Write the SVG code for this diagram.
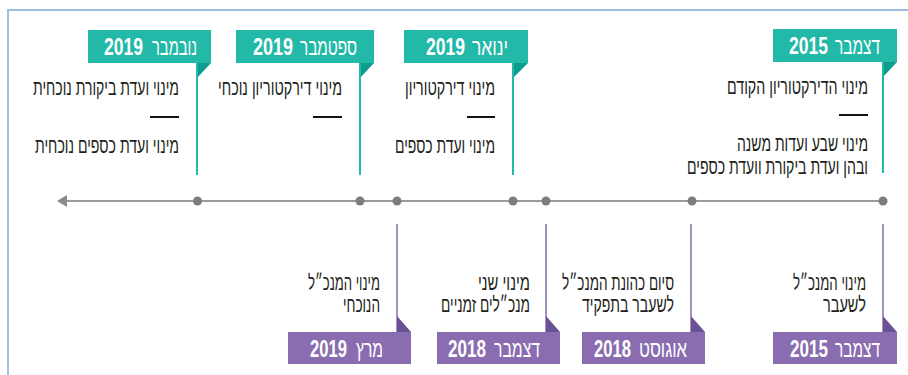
<svg xmlns="http://www.w3.org/2000/svg" width="908" height="375" viewBox="0 0 908 375">
<style>
.frame{fill:none;stroke:#9dbde3;stroke-width:2}
.teal{fill:#23b9a8}
.tealdk{fill:#0e9c8d}
.purple{fill:#8a6db0}
.purpledk{fill:#6a5193}
.tline{stroke:#23b9a8;stroke-width:2}
.pline{stroke:#8a6db0;stroke-width:1.5}
.dash{stroke:#111;stroke-width:2}
.axis{stroke:#9a9a9a;stroke-width:2}
.dot{fill:#7d7d7d}
text{text-anchor:end;font-family:"Liberation Sans","DejaVu Sans",sans-serif}
.txt{font-size:21px;fill:#231f20}
.yr{font-size:23px;font-weight:bold;fill:#fff}
.mo{font-size:23px;fill:#fff}
</style>
<rect width="908" height="375" fill="#fff"/>
<path class="frame" d="M8,375 V10 H908"/>
<g id="connectors">
<line class="axis" x1="66" y1="201" x2="883" y2="201"/>
<polygon fill="#8a8a8a" points="57,201 67,195 67,207"/>
<circle class="dot" cx="197.5" cy="201" r="4.5"/>
<circle class="dot" cx="360" cy="201" r="4.5"/>
<circle class="dot" cx="397" cy="201" r="4.5"/>
<circle class="dot" cx="513" cy="201" r="4.5"/>
<circle class="dot" cx="546" cy="201" r="4.5"/>
<circle class="dot" cx="692" cy="201" r="4.5"/>
<circle class="dot" cx="883" cy="201" r="4.5"/>
</g>
<g id="nov2019">
<rect class="teal" x="88" y="30" width="123" height="33"/>
<polygon class="tealdk" points="197,63 211,63 197,78"/>
<line class="tline" x1="197" y1="63" x2="197" y2="175"/>
<text class="yr" transform="translate(143,55) scale(.78,1)" textLength="50" lengthAdjust="spacingAndGlyphs">2019</text>
<text class="mo" transform="translate(197,55) scale(.65,1)" textLength="69.2" lengthAdjust="spacingAndGlyphs">נובמבר</text>
<text class="txt" transform="translate(179,95) scale(.62,1)" textLength="235.5" lengthAdjust="spacingAndGlyphs">מינוי ועדת ביקורת נוכחית</text>
<line class="dash" x1="150" y1="117" x2="179" y2="117"/>
<text class="txt" transform="translate(179,153) scale(.62,1)" textLength="232.3" lengthAdjust="spacingAndGlyphs">מינוי ועדת כספים נוכחית</text>
</g>
<g id="sep2019">
<rect class="teal" x="236" y="30" width="138" height="33"/>
<polygon class="tealdk" points="360,63 374,63 360,78"/>
<line class="tline" x1="360" y1="63" x2="360" y2="175"/>
<text class="yr" transform="translate(293,55) scale(.78,1)" textLength="51.3" lengthAdjust="spacingAndGlyphs">2019</text>
<text class="mo" transform="translate(357,55) scale(.65,1)" textLength="87.7" lengthAdjust="spacingAndGlyphs">ספטמבר</text>
<text class="txt" transform="translate(342,95) scale(.62,1)" textLength="200" lengthAdjust="spacingAndGlyphs">מינוי דירקטוריון נוכחי</text>
<line class="dash" x1="313" y1="117" x2="342" y2="117"/>
</g>
<g id="jan2019">
<rect class="teal" x="404" y="30" width="124" height="33"/>
<polygon class="tealdk" points="513,63 528,63 513,78"/>
<line class="tline" x1="513" y1="63" x2="513" y2="175"/>
<text class="yr" transform="translate(465,55) scale(.78,1)" textLength="50" lengthAdjust="spacingAndGlyphs">2019</text>
<text class="mo" transform="translate(508,55) scale(.65,1)" textLength="55.4" lengthAdjust="spacingAndGlyphs">ינואר</text>
<text class="txt" transform="translate(495,95) scale(.62,1)" textLength="145.2" lengthAdjust="spacingAndGlyphs">מינוי דירקטוריון</text>
<line class="dash" x1="467" y1="117" x2="495" y2="117"/>
<text class="txt" transform="translate(495,153) scale(.62,1)" textLength="161.3" lengthAdjust="spacingAndGlyphs">מינוי ועדת כספים</text>
</g>
<g id="dec2015top">
<rect class="teal" x="773" y="29" width="124" height="33"/>
<polygon class="tealdk" points="883,62 897,62 883,77"/>
<line class="tline" x1="883" y1="62" x2="883" y2="173"/>
<text class="yr" transform="translate(828,54) scale(.78,1)" textLength="50" lengthAdjust="spacingAndGlyphs">2015</text>
<text class="mo" transform="translate(880,54) scale(.65,1)" textLength="69.2" lengthAdjust="spacingAndGlyphs">דצמבר</text>
<text class="txt" transform="translate(868,94) scale(.62,1)" textLength="227.4" lengthAdjust="spacingAndGlyphs">מינוי הדירקטוריון הקודם</text>
<line class="dash" x1="839" y1="115" x2="868" y2="115"/>
<text class="txt" transform="translate(868,151) scale(.62,1)" textLength="211.3" lengthAdjust="spacingAndGlyphs">מינוי שבע ועדות משנה</text>
<text class="txt" transform="translate(868,174) scale(.62,1)" textLength="291.9" lengthAdjust="spacingAndGlyphs">ובהן ועדת ביקורת וועדת כספים</text>
</g>
<g id="mar2019">
<line class="pline" x1="397" y1="224" x2="397" y2="332"/>
<polygon class="purpledk" points="397,316 397,332 411,332"/>
<rect class="purple" x="288" y="332" width="123" height="32"/>
<text class="yr" transform="translate(347,357) scale(.78,1)" textLength="47.4" lengthAdjust="spacingAndGlyphs">2019</text>
<text class="mo" transform="translate(383,357) scale(.65,1)" textLength="41.5" lengthAdjust="spacingAndGlyphs">מרץ</text>
<text class="txt" transform="translate(380,290) scale(.62,1)" textLength="116.1" lengthAdjust="spacingAndGlyphs">מינוי המנכ״ל</text>
<text class="txt" transform="translate(380,312) scale(.62,1)" textLength="59.7" lengthAdjust="spacingAndGlyphs">הנוכחי</text>
</g>
<g id="dec2018">
<line class="pline" x1="546" y1="224" x2="546" y2="332"/>
<polygon class="purpledk" points="546,316 546,332 560,332"/>
<rect class="purple" x="437" y="332" width="123" height="32"/>
<text class="yr" transform="translate(486,357) scale(.78,1)" textLength="48.7" lengthAdjust="spacingAndGlyphs">2018</text>
<text class="mo" transform="translate(540,357) scale(.65,1)" textLength="70.8" lengthAdjust="spacingAndGlyphs">דצמבר</text>
<text class="txt" transform="translate(530,290) scale(.62,1)" textLength="83.9" lengthAdjust="spacingAndGlyphs">מינוי שני</text>
<text class="txt" transform="translate(530,312) scale(.62,1)" textLength="143.5" lengthAdjust="spacingAndGlyphs">מנכ״לים זמניים</text>
</g>
<g id="aug2018">
<line class="pline" x1="691" y1="224" x2="691" y2="332"/>
<polygon class="purpledk" points="691,316 691,332 705,332"/>
<rect class="purple" x="582" y="332" width="123" height="32"/>
<text class="yr" transform="translate(631,357) scale(.78,1)" textLength="47.4" lengthAdjust="spacingAndGlyphs">2018</text>
<text class="mo" transform="translate(687,357) scale(.65,1)" textLength="73.8" lengthAdjust="spacingAndGlyphs">אוגוסט</text>
<text class="txt" transform="translate(674,290) scale(.62,1)" textLength="180.6" lengthAdjust="spacingAndGlyphs">סיום כהונת המנכ״ל</text>
<text class="txt" transform="translate(674,312) scale(.62,1)" textLength="148.4" lengthAdjust="spacingAndGlyphs">לשעבר בתפקיד</text>
</g>
<g id="dec2015bottom">
<line class="pline" x1="883" y1="224" x2="883" y2="332"/>
<polygon class="purpledk" points="883,316 883,332 897,332"/>
<rect class="purple" x="773" y="332" width="124" height="32"/>
<text class="yr" transform="translate(828,357) scale(.78,1)" textLength="48.7" lengthAdjust="spacingAndGlyphs">2015</text>
<text class="mo" transform="translate(880,357) scale(.65,1)" textLength="69.2" lengthAdjust="spacingAndGlyphs">דצמבר</text>
<text class="txt" transform="translate(866,290) scale(.62,1)" textLength="117.7" lengthAdjust="spacingAndGlyphs">מינוי המנכ״ל</text>
<text class="txt" transform="translate(866,312) scale(.62,1)" textLength="69.4" lengthAdjust="spacingAndGlyphs">לשעבר</text>
</g>
</svg>
